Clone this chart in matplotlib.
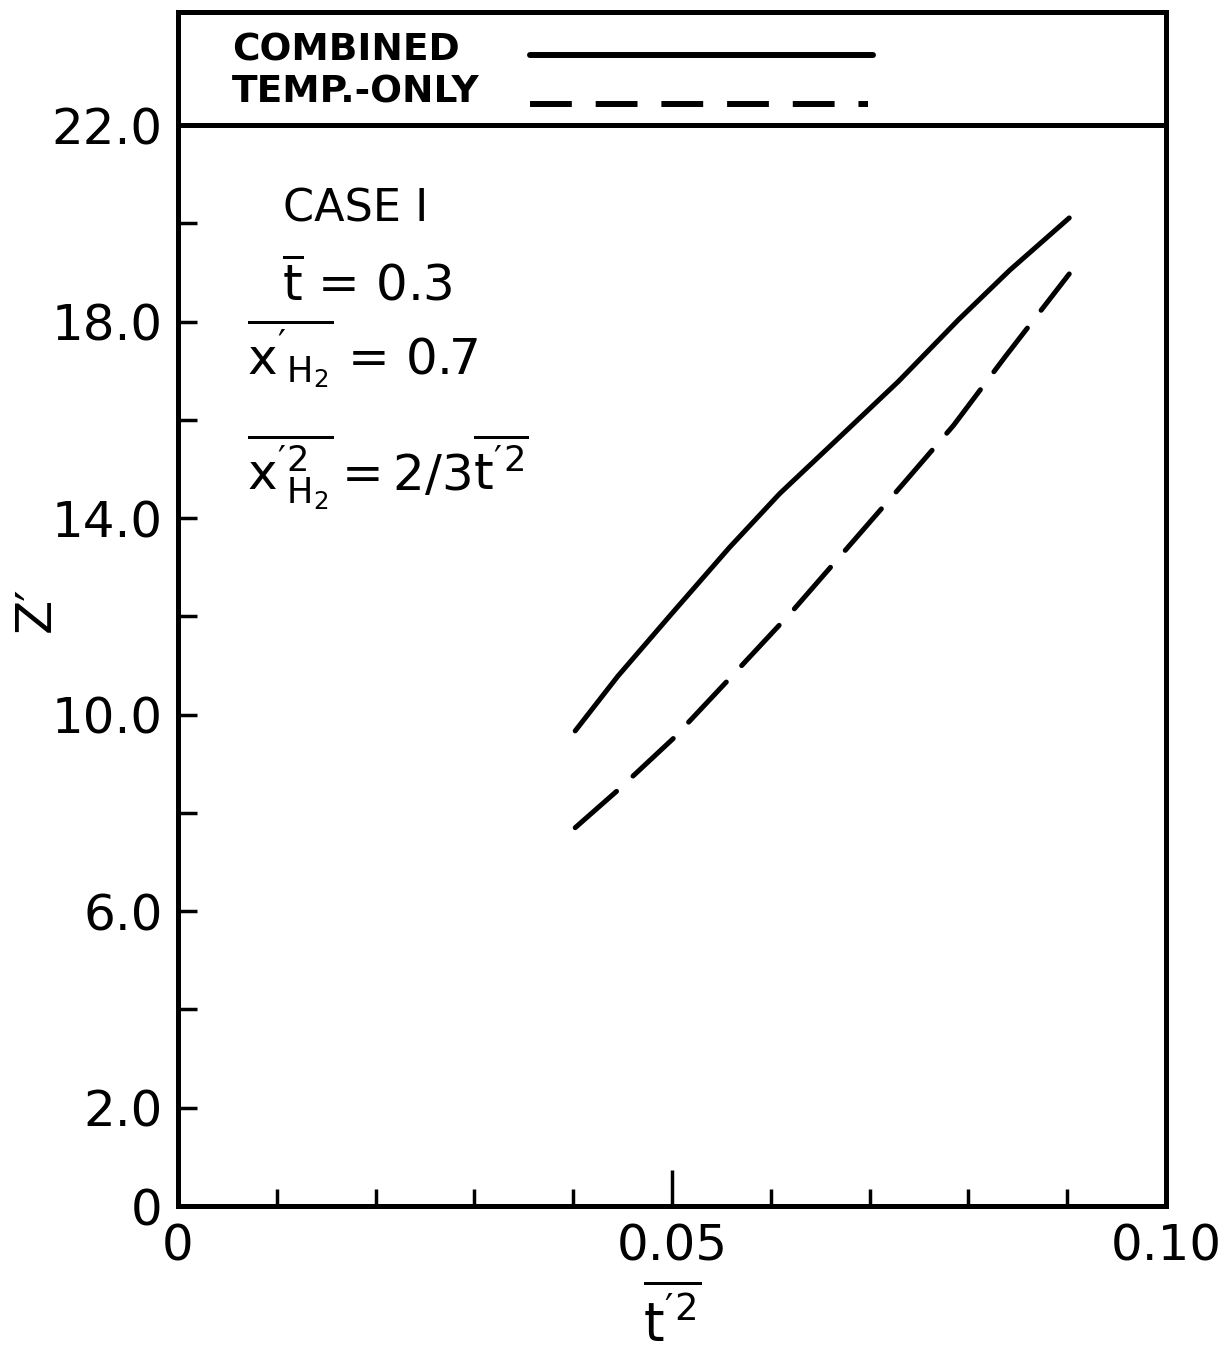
import matplotlib
matplotlib.use("Agg")
import matplotlib.pyplot as plt
from matplotlib.ticker import FixedLocator
import numpy as np

plt.rcParams['font.family'] = ['DejaVu Sans']
plt.rcParams['mathtext.fontset'] = 'dejavusans'
plt.rcParams['mathtext.default'] = 'regular'

# Z' vs mean square temperature fluctuation, case 1
t2_combined = [0.0402, 0.0445, 0.0499, 0.0558, 0.0609, 0.0667, 0.0729, 0.0790, 0.0842, 0.0902]
z_combined = [9.67, 10.78, 12.04, 13.40, 14.50, 15.60, 16.78, 18.04, 19.05, 20.11]

t2_temp = [0.0402, 0.0445, 0.0501, 0.0558, 0.0621, 0.0676, 0.0734, 0.0785, 0.0837, 0.0902]
z_temp = [7.70, 8.46, 9.51, 10.73, 12.09, 13.36, 14.70, 15.89, 17.28, 18.97]

x_major = [0, 0.05, 0.10]
x_major_labels = ["0", "0.05", "0.10"]
x_minor = [0.01, 0.02, 0.03, 0.04, 0.06, 0.07, 0.08, 0.09]
y_major = [0, 2, 6, 10, 14, 18, 22]
y_major_labels = ["0", "2.0", "6.0", "10.0", "14.0", "18.0", "22.0"]
y_minor = [4, 8, 12, 16, 20]

fig = plt.figure(figsize=(12.21, 13.54), dpi=100)
ax = fig.add_axes([0.1458, 0.1093, 0.8092, 0.8818])

lw = 3.6
ax.plot(t2_combined, z_combined, color='black', lw=lw, solid_capstyle='round')
ax.plot(t2_temp, z_temp, color='black', lw=lw, dashes=(11, 4.5), dash_capstyle='round')

# legend box separated from the plot area
ax.axhline(22, color='black', lw=lw)

ax.set_xlim(0, 0.10)
ax.set_ylim(0, 24.3)

for s in ax.spines.values():
    s.set_linewidth(lw)

ax.xaxis.set_major_locator(FixedLocator(x_major))
ax.set_xticklabels(x_major_labels)
ax.xaxis.set_minor_locator(FixedLocator(x_minor))
ax.yaxis.set_major_locator(FixedLocator(y_major))
ax.set_yticklabels(y_major_labels)
ax.yaxis.set_minor_locator(FixedLocator(y_minor))

ax.tick_params(axis='x', which='major', direction='in', length=26, width=2.5,
               labelsize=36, pad=12)
ax.tick_params(axis='x', which='minor', direction='in', length=12, width=2.5)
ax.tick_params(axis='y', which='both', direction='in', length=14, width=2.5,
               labelsize=36, pad=11)

ax.set_xlabel(r"$\overline{t'^{2}}$", fontsize=38, labelpad=10)
ax.set_ylabel("Z\u2032", fontsize=36)
ax.yaxis.set_label_coords(-0.12, 0.5)

ax.text(0.0106, 20.3, "CASE I", fontsize=32, va='center', ha='left')
ax.text(0.0105, 18.75, r"$\overline{t}$ = 0.3", fontsize=36, va='center', ha='left')
ax.text(0.0070, 17.35, r"$\overline{x'_{H_2}}$ = 0.7", fontsize=36, va='center', ha='left')
ax.text(0.0070, 14.95, r"$\overline{x'^{2}_{H_2}}=2/3\overline{t'^{2}}$", fontsize=36,
        va='center', ha='left')

# key in the top strip: labels on the left, line samples to the right
tr = ax.transAxes
ax.text(0.0547, 0.968, "COMBINED", transform=tr, fontsize=27, weight='bold',
        va='center', ha='left')
ax.text(0.0547, 0.933, "TEMP.-ONLY", transform=tr, fontsize=27, weight='bold',
        va='center', ha='left')
ax.plot([0.356, 0.703], [0.964, 0.964], transform=tr, color='black', lw=4.3,
        solid_capstyle='round')
ax.plot([0.356, 0.698], [0.9233, 0.9233], transform=tr, color='black', lw=4.3,
        dashes=(7, 4))

fig.savefig("out.png", dpi=100)
